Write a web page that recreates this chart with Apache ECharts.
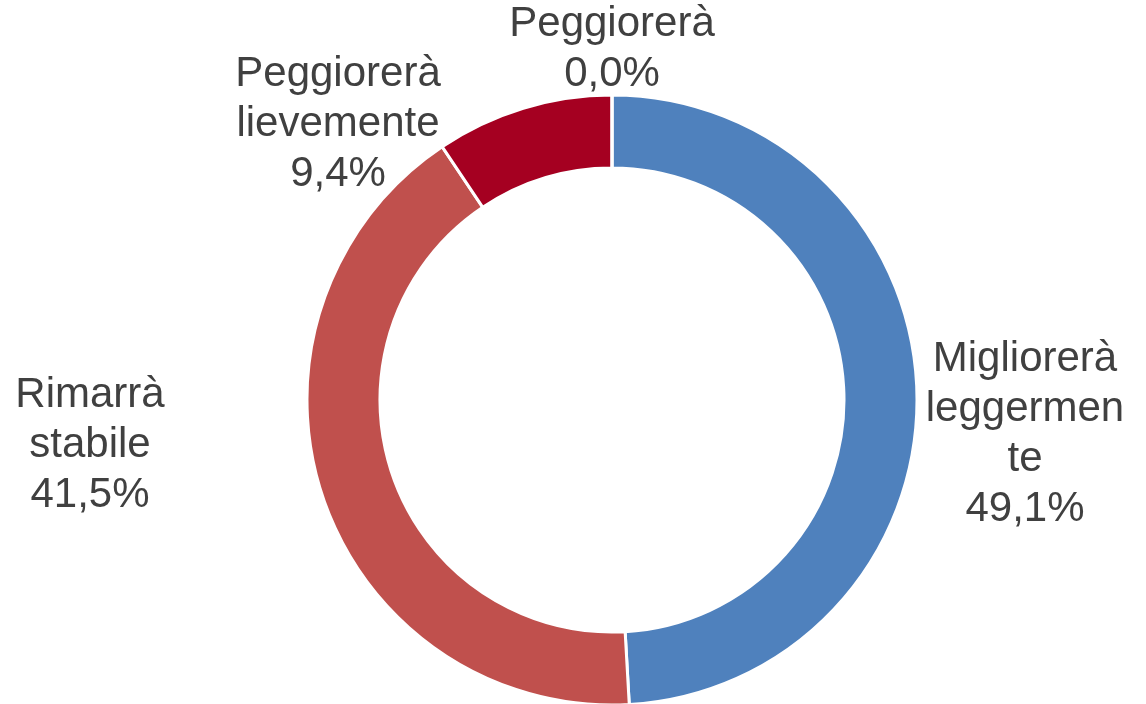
<!DOCTYPE html>
<html>
<head>
<meta charset="utf-8">
<script src="https://cdn.jsdelivr.net/npm/echarts@6/dist/echarts.min.js"></script>
<style>
  html, body { margin: 0; padding: 0; background: #fff; }
  #chart { width: 1146px; height: 704px; }
</style>
</head>
<body>
<div id="chart"></div>
<script>
const categories = ["Migliorerà\nleggermen\nte", "Rimarrà\nstabile", "Peggiorerà\nlievemente", "Peggiorerà"];
const values = [49.1, 41.5, 9.4, 0.0];
const colors = ["#4F81BD", "#C0504D", "#A50021", "#7F1F1F"];
// label anchor points (block centres)
const labelPos = [[1025, 434], [90, 445], [338, 124], [612, 49]];

const chart = echarts.init(document.getElementById("chart"));

const data = categories.map((c, i) => ({
  name: c,
  value: values[i],
  itemStyle: { color: colors[i] }
}));

chart.setOption({
  animation: false,
  series: [{
    type: "pie",
    center: [612, 400],
    radius: [232, 305],
    startAngle: 90,
    clockwise: true,
    minAngle: 0.01,
    avoidLabelOverlap: false,
    itemStyle: { borderColor: "#fff", borderWidth: 3 },
    label: {
      show: true,
      position: "outside",
      color: "#404040",
      fontFamily: "Liberation Sans, Arial, sans-serif",
      fontSize: 42,
      lineHeight: 50,
      align: "center",
      formatter: p => p.name + "\n" + p.value.toFixed(1).replace(".", ",") + "%"
    },
    labelLine: { show: false },
    labelLayout: p => ({
      x: labelPos[p.dataIndex][0],
      y: labelPos[p.dataIndex][1],
      align: "center",
      verticalAlign: "middle"
    }),
    data
  }]
});
</script>
</body>
</html>
